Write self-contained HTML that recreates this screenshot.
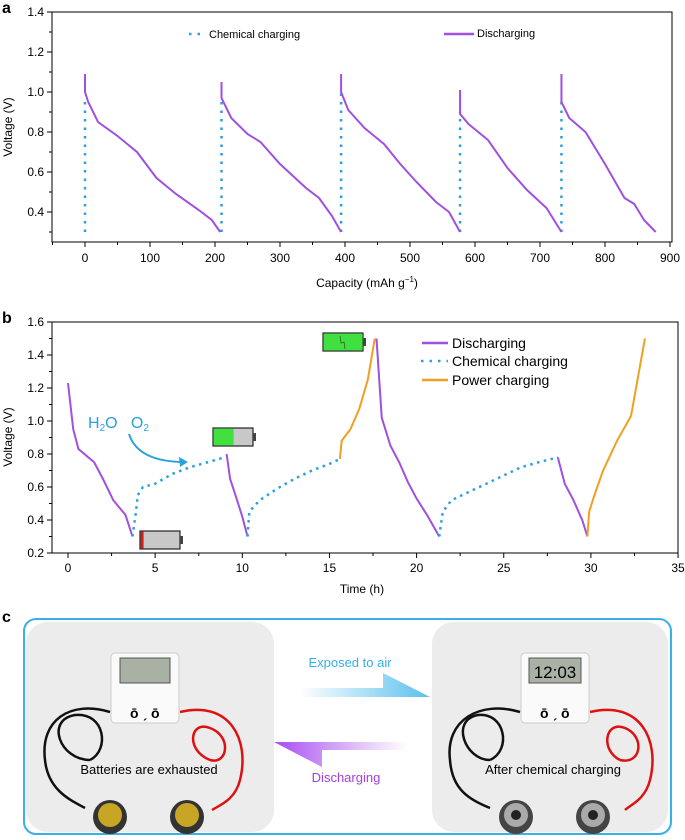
<!DOCTYPE html>
<html><head><meta charset="utf-8"><style>
html,body{margin:0;padding:0;background:#fff}
svg{display:block;font-family:"Liberation Sans",sans-serif}
</style></head><body>
<svg id="fig" width="685" height="840" viewBox="0 0 685 840" xmlns="http://www.w3.org/2000/svg">
<g id="pa"></g>
<g id="pb"></g>
<g id="pc">
 <text x="2" y="622" font-size="16" font-weight="bold">c</text>
 <rect x="24" y="619" width="647" height="215" rx="12" fill="none" stroke="#3ab0e6" stroke-width="2"/>
 <rect x="26" y="622" width="248" height="210" rx="22" fill="#ececec"/>
 <rect x="432" y="622" width="236" height="210" rx="22" fill="#ececec"/>
 <g>
  <rect x="111" y="653" width="68" height="70" rx="4" fill="#fafafa" stroke="#ccc"/>
  <rect x="120" y="658" width="50" height="25" fill="#a9b0a4" stroke="#555"/>
  <text x="130" y="718" font-size="14" font-weight="bold">ō ˏ ō</text>
 </g>
 <g>
  <rect x="521" y="653" width="68" height="70" rx="4" fill="#fafafa" stroke="#ccc"/>
  <rect x="529" y="658" width="52" height="25" fill="#a9b0a4" stroke="#555"/>
  <text x="555" y="678" font-size="17" text-anchor="middle" font-family="Liberation Sans Narrow,Liberation Sans,sans-serif">12:03</text>
  <text x="540" y="718" font-size="14" font-weight="bold">ō ˏ ō</text>
 </g>
 <g fill="none" stroke-width="2.5">
  <path d="M110 712 C70 700 40 720 45 760 C48 790 70 800 85 808" stroke="#111"/>
  <path d="M90 760 C60 760 45 720 75 715 C105 712 110 750 90 760" stroke="#111"/>
  <path d="M180 712 C230 700 250 740 240 780 C235 800 220 805 212 810" stroke="#d11"/>
  <path d="M210 760 C185 750 190 720 210 728 C232 736 228 765 210 760" stroke="#d11"/>
  <path d="M520 712 C480 700 445 720 450 760 C452 790 470 800 490 808" stroke="#111"/>
  <path d="M490 760 C465 760 450 720 478 715 C505 712 512 750 490 760" stroke="#111"/>
  <path d="M590 712 C640 700 660 740 650 780 C645 800 630 805 625 810" stroke="#d11"/>
  <path d="M620 760 C600 750 605 720 625 728 C645 736 642 765 620 760" stroke="#d11"/>
 </g>
 <g>
  <circle cx="110" cy="817" r="17" fill="#333"/><circle cx="110" cy="815" r="12" fill="#c9a526"/>
  <circle cx="187" cy="817" r="17" fill="#333"/><circle cx="187" cy="815" r="12" fill="#c9a526"/>
  <circle cx="516" cy="817" r="17" fill="#444"/><circle cx="516" cy="815" r="12" fill="#aaa"/><circle cx="516" cy="815" r="5" fill="#222"/>
  <circle cx="593" cy="817" r="17" fill="#444"/><circle cx="593" cy="815" r="12" fill="#aaa"/><circle cx="593" cy="815" r="5" fill="#222"/>
 </g>
 <text x="149" y="774" font-size="13" text-anchor="middle">Batteries are exhausted</text>
 <text x="553" y="774" font-size="13" text-anchor="middle">After chemical charging</text>
 <defs>
  <linearGradient id="gb" x1="0" x2="1"><stop offset="0" stop-color="#5bc0ee" stop-opacity="0"/><stop offset="1" stop-color="#5bc0ee"/></linearGradient>
  <linearGradient id="gp" x1="1" x2="0"><stop offset="0" stop-color="#b45ff0" stop-opacity="0"/><stop offset="1" stop-color="#a64df0"/></linearGradient>
 </defs>
 <polygon points="300,688 383,688 383,673 430,697 300,697" fill="url(#gb)"/>
 <polygon points="408,742 322,742 322,767 274,742 274,742 322,742 322,750 408,750" fill="url(#gp)"/>
 <text x="350" y="667" font-size="13" fill="#35b0e8" text-anchor="middle">Exposed to air</text>
 <text x="346" y="782" font-size="13" fill="#a040e0" text-anchor="middle">Discharging</text>
</g>
</svg>
<script>
// ---- Panel a data ----
const aTicksX=[0,100,200,300,400,500,600,700,800,900];
const aTicksY=[0.4,0.6,0.8,1.0,1.2,1.4];
const aC1Cap=[0,0,5,20,50,80,110,140,175,195,208];
const aC1V=[1.09,1.0,0.95,0.85,0.78,0.70,0.57,0.49,0.41,0.36,0.30];
const aC2Cap=[210,210,225,250,270,300,340,360,380,394];
const aC2V=[1.05,0.97,0.87,0.79,0.75,0.64,0.52,0.47,0.38,0.30];
const aC3Cap=[394,394,405,430,460,485,510,540,560,577];
const aC3V=[1.09,1.0,0.91,0.82,0.74,0.64,0.55,0.45,0.40,0.30];
const aC4Cap=[577,577,590,620,650,680,710,733];
const aC4V=[1.01,0.89,0.84,0.76,0.62,0.51,0.42,0.30];
const aC5Cap=[733,733,745,770,800,830,845,860,878];
const aC5V=[1.09,0.95,0.87,0.80,0.64,0.47,0.44,0.36,0.30];
const aChemCap=[0,210,394,577,733];
const aChemTop=[0.96,0.96,1.01,0.90,0.96];
// ---- Panel b data ----
const bTicksX=[0,5,10,15,20,25,30,35];
const bTicksY=[0.2,0.4,0.6,0.8,1.0,1.2,1.4,1.6];
const bSegTypes=["dis","chem","dis","chem","pow","dis","chem","dis","pow"];
const bSegT=[
 [0,0.3,0.6,1.5,2,2.6,3.3,3.7],
 [3.7,3.9,4.0,4.3,5,6,7,8,9],
 [9.1,9.3,9.7,10,10.3],
 [10.3,10.4,11,12,13,14,15,15.6],
 [15.6,15.7,16.2,16.7,17.2,17.6],
 [17.7,18,18.5,19,19.5,20,20.6,21.3],
 [21.3,21.5,22,23,24,25,26,27,28.1],
 [28.1,28.5,29,29.5,29.8],
 [29.8,29.9,30.2,30.7,31.5,32.3,33.1]];
const bSegV=[
 [1.23,0.95,0.83,0.75,0.65,0.52,0.43,0.30],
 [0.30,0.45,0.55,0.60,0.62,0.68,0.72,0.75,0.78],
 [0.80,0.65,0.52,0.42,0.30],
 [0.30,0.45,0.52,0.59,0.65,0.70,0.74,0.77],
 [0.77,0.88,0.95,1.07,1.25,1.50],
 [1.50,1.02,0.85,0.75,0.63,0.53,0.43,0.30],
 [0.30,0.45,0.52,0.57,0.62,0.67,0.72,0.75,0.78],
 [0.78,0.62,0.52,0.40,0.30],
 [0.30,0.45,0.55,0.70,0.88,1.03,1.50]];

const NS="http://www.w3.org/2000/svg";
const PURPLE="#a050e0",BLUE="#2aa0dc",ORANGE="#f0a020";
function mk(parent,tag,attrs,text){const e=document.createElementNS(NS,tag);for(const k in attrs)e.setAttribute(k,attrs[k]);if(text!==undefined)e.textContent=text;parent.appendChild(e);return e;}

// Panel a
const pa=document.getElementById('pa');
const ax=v=>85+v*0.65, ay=v=>12+(1.4-v)*200;
mk(pa,'text',{x:2,y:13,'font-size':16,'font-weight':'bold'},'a');
mk(pa,'rect',{x:52,y:12,width:620,height:230,fill:'none',stroke:'#000','stroke-width':1});
aTicksX.forEach(t=>{
 const l=mk(pa,'line',{x1:ax(t),x2:ax(t),y1:242,y2:247,stroke:'#000'});
 
 
 const tx=mk(pa,'text',{x:ax(t),y:262,'font-size':12,'text-anchor':'middle'},String(t));
 
 
 if(t<900){mk(pa,'line',{x1:ax(t+50),x2:ax(t+50),y1:242,y2:245,stroke:'#000'});}
});
mk(pa,'line',{x1:ax(-50),x2:ax(-50),y1:242,y2:245,stroke:'#000'});
aTicksY.forEach(t=>{
 mk(pa,'line',{x1:47,x2:52,y1:ay(t),y2:ay(t),stroke:'#000'});
 mk(pa,'line',{x1:49,x2:52,y1:ay(t-0.1),y2:ay(t-0.1),stroke:'#000'});
 const tx=mk(pa,'text',{x:44,y:ay(t)+4,'font-size':12,'text-anchor':'end'},t.toFixed(1));
 
 
});
let t1=mk(pa,'text',{x:367,y:287,'font-size':12,'text-anchor':'middle'},'Capacity (mAh g');

mk(t1,'tspan',{dy:-5,'font-size':8},'−1');mk(t1,'tspan',{dy:5},')');
let t2=mk(pa,'text',{x:12,y:127,'font-size':12,'text-anchor':'middle',transform:'rotate(-90 12 127)'},'Voltage (V)');

aChemCap.forEach((c,i)=>{
 const l=mk(pa,'line',{x1:ax(c),x2:ax(c),y1:ay(0.3),y2:ay(aChemTop[i]),stroke:BLUE,'stroke-width':2.5,'stroke-dasharray':'2.5 6'});
 
 
});
[[aC1Cap,aC1V],[aC2Cap,aC2V],[aC3Cap,aC3V],[aC4Cap,aC4V],[aC5Cap,aC5V]].forEach(([c,v])=>{
 const p=mk(pa,'polyline',{points:c.map((x,i)=>ax(x)+','+ay(v[i])).join(' '),fill:'none',stroke:PURPLE,'stroke-width':2});
 
 
});
mk(pa,'line',{x1:189,x2:204,y1:34,y2:34,stroke:BLUE,'stroke-width':2.5,'stroke-dasharray':'2.5 6'});
let lg1=mk(pa,'text',{x:209,y:38,'font-size':11},'Chemical charging');

mk(pa,'line',{x1:444,x2:474,y1:34,y2:34,stroke:PURPLE,'stroke-width':2.5});
let lg2=mk(pa,'text',{x:477,y:37,'font-size':11},'Discharging');


// Panel b
const pb=document.getElementById('pb');
const bx=v=>68+v*17.43, by=v=>322+(1.6-v)*165;
mk(pb,'text',{x:2,y:323,'font-size':16,'font-weight':'bold'},'b');
mk(pb,'rect',{x:52,y:322,width:626,height:231,fill:'none',stroke:'#000','stroke-width':1});
bTicksX.forEach(t=>{
 mk(pb,'line',{x1:bx(t),x2:bx(t),y1:553,y2:558,stroke:'#000'});
 if(t<35)mk(pb,'line',{x1:bx(t+2.5),x2:bx(t+2.5),y1:553,y2:556,stroke:'#000'});
 const tx=mk(pb,'text',{x:bx(t),y:572,'font-size':12,'text-anchor':'middle'},String(t));
 
 
});
bTicksY.forEach(t=>{
 mk(pb,'line',{x1:47,x2:52,y1:by(t),y2:by(t),stroke:'#000'});
 if(t<1.6)mk(pb,'line',{x1:49,x2:52,y1:by(t+0.1),y2:by(t+0.1),stroke:'#000'});
 const tx=mk(pb,'text',{x:44,y:by(t)+4,'font-size':12,'text-anchor':'end'},t.toFixed(1));
 
 
});
let t3=mk(pb,'text',{x:362,y:593,'font-size':12,'text-anchor':'middle'},'Time (h)');

let t4=mk(pb,'text',{x:12,y:437,'font-size':12,'text-anchor':'middle',transform:'rotate(-90 12 437)'},'Voltage (V)');

bSegTypes.forEach((ty,i)=>{
 const st={dis:{stroke:PURPLE},chem:{stroke:BLUE,'stroke-dasharray':'2.5 4.5','stroke-width':2.5},pow:{stroke:ORANGE}}[ty];
 const a=Object.assign({points:bSegT[i].map((x,j)=>bx(x)+','+by(bSegV[i][j])).join(' '),fill:'none','stroke-width':2},st);
 const p=mk(pb,'polyline',a);
 
 
});
// legend b
mk(pb,'line',{x1:422,x2:448,y1:343,y2:343,stroke:PURPLE,'stroke-width':2.5});
let l1=mk(pb,'text',{x:452,y:348,'font-size':14},'Discharging');

mk(pb,'line',{x1:421,x2:448,y1:361,y2:361,stroke:BLUE,'stroke-width':2.5,'stroke-dasharray':'2.5 6'});
let l2=mk(pb,'text',{x:452,y:366,'font-size':14},'Chemical charging');

mk(pb,'line',{x1:422,x2:448,y1:380,y2:380,stroke:ORANGE,'stroke-width':2.5});
let l3=mk(pb,'text',{x:452,y:385,'font-size':14},'Power charging');

// annotations
let h=mk(pb,'text',{x:88,y:428,'font-size':16,fill:BLUE},'H');

mk(h,'tspan',{'font-size':10,dy:3},'2');mk(h,'tspan',{dy:-3},'O\u00A0\u00A0\u00A0O');mk(h,'tspan',{'font-size':10,dy:3},'2');
const arr=mk(pb,'path',{d:'M129 434 Q138 462 185 462',fill:'none',stroke:BLUE,'stroke-width':2});

mk(pb,'polygon',{points:'188,462 179,457 180,467',fill:BLUE});
function batt(x,y,fillW,color,name){
 const g=mk(pb,'g',{});
 
 
 mk(g,'rect',{x:x,y:y,width:40,height:18,fill:'#c8c8c8',stroke:'#222','stroke-width':1.2});
 mk(g,'rect',{x:x+0.6,y:y+0.6,width:fillW,height:16.8,fill:color});
 mk(g,'rect',{x:x+40,y:y+5,width:3,height:8,fill:'#444'});
}
batt(140,531,3,'#d02020','battery-empty');
batt(213,428,20,'#40e040','battery-half');
batt(323,333,39,'#40e040','battery-full');
mk(pb,'path',{d:'M340 336 L341 343 L344 342 L345 349',fill:'none',stroke:'#226622','stroke-width':0.8});
</script>
</body></html>
